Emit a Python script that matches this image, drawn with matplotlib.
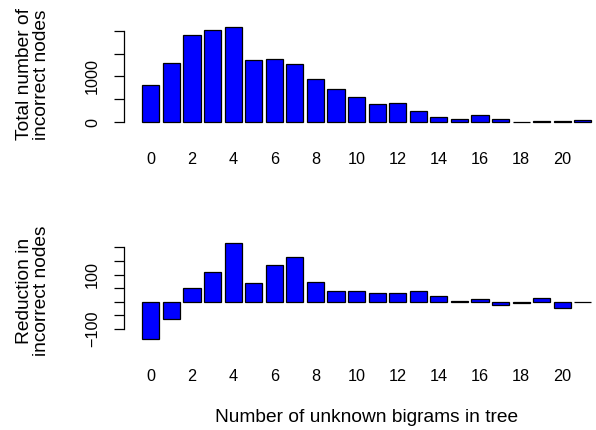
import numpy as np
import matplotlib
matplotlib.use("Agg")
import matplotlib.pyplot as plt

plt.rcParams['font.family'] = ['Liberation Sans', 'DejaVu Sans']

# unknown bigrams in tree: 0..21
n_unknown = list(range(22))
total_incorrect = [808, 1288, 1899, 2021, 2087, 1353, 1388, 1266, 939, 720, 546,
                   393, 415, 240, 122, 65, 166, 79, 13, 35, 28, 50]
reduction = [-138, -62, 49, 108, 215, 70, 136, 165, 71, 39, 39,
             33, 33, 39, 20, 2, 9, -11, -3, 15, -24, -2]
xtick_labels = [str(n) if n % 2 == 0 else "" for n in n_unknown]

top_yticks = [0, 500, 1000, 1500, 2000]
top_ylabels = ["0", "", "1000", "", ""]
bot_yticks = [-100, -50, 0, 50, 100, 150, 200]
bot_ylabels = ["\u2212100", "", "", "", "100", "", ""]

W, H = 596, 430
FS = 11.7      # tick labels
FS_LAB = 13.8  # axis titles


def r_barplot(ax, values, yticks, ylabels, ylabel_text):
    # R barplot geometry: width 1, space 0.2
    centers = 0.7 + 1.2 * np.arange(len(values))
    ax.bar(centers, values, width=1.0, color="#0000ff", edgecolor="black",
           linewidth=0.9)
    lo = min(0, min(values))
    hi = max(0, max(values))
    pad = 0.04 * (hi - lo)
    ax.set_ylim(lo - pad, hi + pad)
    xl, xr = centers[0] - 0.5, centers[-1] + 0.5
    xpad = 0.04 * (xr - xl)
    ax.set_xlim(xl - xpad, xr + xpad)

    for s in ["top", "right", "bottom"]:
        ax.spines[s].set_visible(False)
    ax.spines["left"].set_bounds(yticks[0], yticks[-1])
    ax.spines["left"].set_linewidth(0.9)
    ax.set_yticks(yticks)
    ax.set_yticklabels(ylabels, rotation=90, va="center", fontsize=FS)
    ax.tick_params(axis="y", length=7, width=0.9, pad=10.5)
    ax.set_xticks(centers)
    ax.set_xticklabels(xtick_labels, fontsize=FS)
    ax.tick_params(axis="x", length=0, pad=18.5)
    pos = ax.get_position()
    ax.figure.text(33 / W, pos.y0 + pos.height / 2, ylabel_text, rotation=90,
                   ha="center", va="center", multialignment="center",
                   fontsize=FS_LAB, linespacing=1.0)


def main():
    fig = plt.figure(figsize=(W / 100, H / 100), dpi=100)
    ax1 = fig.add_axes([124.4 / W, 1 - 126.1 / H, 484.9 / W, 103.2 / H])
    ax2 = fig.add_axes([124.4 / W, 1 - 343.1 / H, 484.9 / W, 103.7 / H])

    r_barplot(ax1, total_incorrect, top_yticks, top_ylabels,
              "Total number of\nincorrect nodes")
    r_barplot(ax2, reduction, bot_yticks, bot_ylabels,
              "Reduction in\nincorrect nodes")

    fig.text(367 / W, 1 - 418 / H, "Number of unknown bigrams in tree",
             ha="center", va="center", fontsize=FS_LAB)

    fig.savefig("out.png", dpi=100)
    plt.close(fig)


main()
